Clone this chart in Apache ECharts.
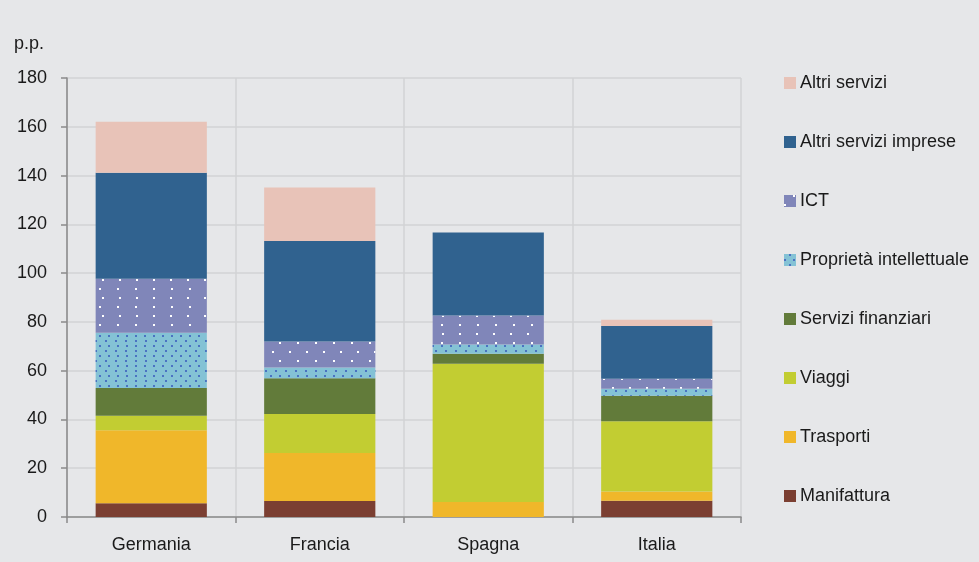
<!DOCTYPE html>
<html>
<head>
<meta charset="utf-8">
<script src="https://cdn.jsdelivr.net/npm/echarts@6/dist/echarts.min.js"></script>
<style>
  html, body { margin: 0; padding: 0; background: #e6e7e9; }
  #chart { width: 979px; height: 562px; }
</style>
</head>
<body>
<div id="chart"></div>
<script>
// Paesi (categorie sull'asse x)
const countries = ['Germania', 'Francia', 'Spagna', 'Italia'];

// Contributi per settore, in punti percentuali
const manifattura   = [5.6, 6.6, 0.0, 6.7];
const trasporti     = [30.0, 19.6, 6.2, 3.8];
const viaggi        = [5.9, 16.0, 56.6, 28.8];
const serviziFin    = [11.4, 14.7, 4.1, 10.4];
const proprieta     = [22.6, 4.4, 3.8, 2.9];
const ict           = [22.2, 10.7, 11.9, 4.1];
const altriImprese  = [43.4, 41.2, 34.1, 21.6];
const altriServizi  = [21.0, 21.9, 0.0, 2.6];

const yTicks = { min: 0, max: 180, interval: 20 };
const unitLabel = 'p.p.';

const FONT = '"Liberation Sans", Arial, sans-serif';
const FS = 18;
const TEXT = '#1a1a1a';

const ictDecal = {
  symbol: 'rect',
  symbolSize: 1,
  color: '#ffffff',
  dashArrayX: [[2, 15], [0, 8.5, 2, 6.5]],
  dashArrayY: [2, 6.5]
};
const propDecal = {
  symbol: 'rect',
  symbolSize: 1,
  color: '#4a72c2',
  dashArrayX: [[1.6, 6.9], [0, 4.25, 1.6, 2.65]],
  dashArrayY: [1.6, 2.65]
};

function bar(name, data, color, decal) {
  const s = {
    name: name,
    type: 'bar',
    stack: 'tot',
    data: data,
    barWidth: '66%',
    itemStyle: { color: color },
    emphasis: { disabled: true }
  };
  if (decal) s.itemStyle.decal = decal;
  return s;
}

const series = [
  bar('Manifattura', manifattura, '#7b3f32'),
  bar('Trasporti', trasporti, '#f0b72a'),
  bar('Viaggi', viaggi, '#c2cd32'),
  bar('Servizi finanziari', serviziFin, '#627b3a'),
  bar('Proprietà intellettuale', proprieta, '#84c2d5', propDecal),
  bar('ICT', ict, '#8086b9', ictDecal),
  bar('Altri servizi imprese', altriImprese, '#30628f'),
  bar('Altri servizi', altriServizi, '#e8c3b8')
];

const chart = echarts.init(document.getElementById('chart'), null, { renderer: 'canvas' });
chart.setOption({
  backgroundColor: '#e6e7e9',
  animation: false,
  textStyle: { fontFamily: FONT },
  title: {
    text: unitLabel,
    left: 14,
    top: 35,
    padding: 0,
    textStyle: { fontFamily: FONT, fontSize: FS, fontWeight: 'normal', color: TEXT, lineHeight: FS }
  },
  legend: {
    orient: 'vertical',
    left: 784,
    top: 74,
    padding: 0,
    itemWidth: 12,
    itemHeight: 12,
    itemGap: 41,
    icon: 'rect',
    data: series.map(s => s.name).reverse(),
    textStyle: { fontFamily: FONT, fontSize: FS, color: TEXT, lineHeight: FS, padding: [0, 0, 0, -1] }
  },
  grid: { left: 67, right: 238, top: 78, bottom: 45, containLabel: false },
  xAxis: {
    type: 'category',
    data: countries,
    axisLine: { lineStyle: { color: '#8a8a8a', width: 1.5 } },
    axisTick: { show: true, length: 6, alignWithLabel: false, lineStyle: { color: '#8a8a8a', width: 1.5 } },
    axisLabel: { fontFamily: FONT, fontSize: FS, color: TEXT, margin: 19 },
    splitLine: { show: true, lineStyle: { color: '#d2d3d5', width: 1.5 } }
  },
  yAxis: {
    type: 'value',
    min: yTicks.min,
    max: yTicks.max,
    interval: yTicks.interval,
    axisLine: { show: true, lineStyle: { color: '#8a8a8a', width: 1.5 } },
    axisTick: { show: true, length: 6, lineStyle: { color: '#8a8a8a', width: 1.5 } },
    axisLabel: { fontFamily: FONT, fontSize: FS, color: TEXT, margin: 20 },
    splitLine: { show: true, lineStyle: { color: '#d2d3d5', width: 1.5 } }
  },
  series: series
});
</script>
</body>
</html>
